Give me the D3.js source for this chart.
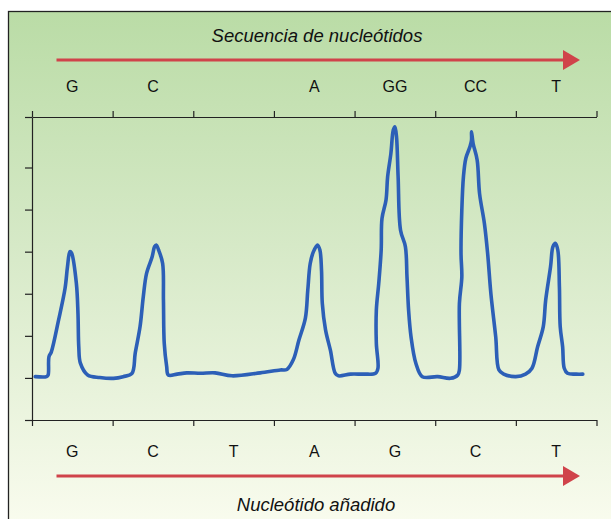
<!DOCTYPE html>
<html lang="es">
<head>
<meta charset="utf-8">
<title>Pirosecuenciación</title>
<script src="https://cdn.jsdelivr.net/npm/d3@7"></script>
<style>
  body { margin: 0; background: #fff; }
  text { font-family: "Liberation Sans", Arial, sans-serif; fill: #111; }
  .title { font-style: italic; font-size: 18.5px; }
  .base { font-size: 16px; }
  .axis path, .axis line { stroke: #222; stroke-width: 1.2; }
</style>
</head>
<body>
<script>
// sequence read (top) and nucleotide dispensed (bottom)
var topLabels = ["G", "C", "A", "GG", "CC", "T"];
var topPos = [0.5, 1.5, 3.5, 4.5, 5.5, 6.5];
var bottomLabels = ["G", "C", "T", "A", "G", "C", "T"];

// signal trace (x: dispensation position, y: light intensity)
var traceX = [0.04, 0.18, 0.20, 0.21, 0.24, 0.33, 0.41, 0.44, 0.47, 0.49, 0.55, 0.57, 0.58, 0.60, 0.69, 0.84,
  1.01, 1.13, 1.24, 1.28, 1.34, 1.38, 1.42, 1.49, 1.52, 1.54, 1.57, 1.62, 1.63, 1.64, 1.67, 1.69, 1.80, 1.92,
  2.09, 2.27, 2.48, 2.83, 3.08, 3.16, 3.24, 3.31, 3.39, 3.42, 3.45, 3.49, 3.54, 3.57, 3.59, 3.60, 3.64, 3.70,
  3.76, 3.80, 3.95, 4.12, 4.26, 4.29, 4.27, 4.27, 4.30, 4.33, 4.34, 4.39, 4.41, 4.45, 4.48, 4.50, 4.52, 4.54,
  4.57, 4.63, 4.65, 4.67, 4.70, 4.76, 4.84, 5.03, 5.19, 5.28, 5.30, 5.30, 5.33, 5.32, 5.33, 5.35, 5.38, 5.43,
  5.45, 5.45, 5.47, 5.52, 5.55, 5.61, 5.65, 5.69, 5.75, 5.79, 5.85, 6.00, 6.12, 6.20, 6.27, 6.34, 6.37, 6.43,
  6.46, 6.49, 6.52, 6.54, 6.55, 6.58, 6.60, 6.64, 6.75, 6.83];
var traceY = [1.03, 1.03, 1.07, 1.50, 1.62, 2.38, 3.13, 3.64, 4.00, 3.97, 3.25, 2.54, 1.74, 1.35, 1.07, 1.01,
  0.99, 1.03, 1.11, 1.59, 2.22, 2.93, 3.48, 3.88, 4.12, 4.16, 4.04, 3.72, 2.85, 1.82, 1.27, 1.07, 1.09, 1.12,
  1.11, 1.12, 1.05, 1.12, 1.19, 1.20, 1.43, 1.90, 2.42, 3.09, 3.72, 4.00, 4.16, 4.04, 3.56, 2.77, 2.14, 1.66,
  1.11, 1.05, 1.09, 1.09, 1.11, 1.23, 1.82, 2.61, 3.25, 4.04, 4.79, 5.23, 5.78, 6.33, 6.89, 6.97, 6.73, 5.78,
  4.51, 4.12, 3.40, 2.61, 1.98, 1.35, 1.03, 1.03, 0.99, 1.07, 1.19, 2.77, 3.40, 3.96, 4.99, 5.78, 6.22, 6.49,
  6.65, 6.85, 6.57, 6.18, 5.38, 4.67, 3.96, 3.01, 1.98, 1.19, 1.09, 1.03, 1.09, 1.23, 1.74, 2.22, 2.85, 3.64,
  4.12, 4.20, 4.04, 3.17, 2.22, 1.74, 1.23, 1.11, 1.09, 1.09];
var yTicks = [1, 2, 3, 4, 5, 6];

var w = 611, h = 519;
var x = d3.scaleLinear().domain([0, 7]).range([32, 596.5]);
var y = d3.scaleLinear().domain([0, 7.2]).range([420, 117]);

var svg = d3.select("body").append("svg")
  .attr("width", w).attr("height", h);

var defs = svg.append("defs");
var grad = defs.append("linearGradient")
  .attr("id", "bg").attr("x1", 0).attr("y1", 0).attr("x2", 0).attr("y2", 1);
grad.append("stop").attr("offset", "0%").attr("stop-color", "#badca6");
grad.append("stop").attr("offset", "45%").attr("stop-color", "#d6e9c7");
grad.append("stop").attr("offset", "100%").attr("stop-color", "#fafcef");

svg.append("rect")
  .attr("x", 8.5).attr("y", 11.5)
  .attr("width", w).attr("height", h)
  .attr("fill", "url(#bg)")
  .attr("stroke", "#222").attr("stroke-width", 1.3);

// axes
svg.append("g").attr("class", "axis")
  .attr("transform", "translate(0," + y(7.2) + ")")
  .call(d3.axisTop(x).tickValues(d3.range(8)).tickFormat("").tickSizeInner(6).tickSizeOuter(0));
svg.append("g").attr("class", "axis")
  .attr("transform", "translate(0," + y(0) + ")")
  .call(d3.axisBottom(x).tickValues(d3.range(8)).tickFormat("").tickSizeInner(6).tickSizeOuter(0));
svg.append("g").attr("class", "axis")
  .attr("transform", "translate(" + x(0) + ",0)")
  .call(d3.axisLeft(y).tickValues([0].concat(yTicks, [7.2])).tickFormat("").tickSizeInner(7).tickSizeOuter(0));
svg.selectAll(".axis text").remove();

// trace
var line = d3.line()
  .x(function(d) { return x(d[0]); })
  .y(function(d) { return y(d[1]); })
  .curve(d3.curveCatmullRom.alpha(0.5));
svg.append("path")
  .datum(d3.zip(traceX, traceY))
  .attr("d", line)
  .attr("fill", "none")
  .attr("stroke", "#2c5fb7")
  .attr("stroke-width", 3.6)
  .attr("stroke-linejoin", "round")
  .attr("stroke-linecap", "round");

// labels
svg.selectAll("text.top").data(topLabels).enter().append("text")
  .attr("class", "base top")
  .attr("x", function(d, i) { return x(topPos[i]); })
  .attr("y", 92)
  .attr("text-anchor", "middle")
  .text(function(d) { return d; });
svg.selectAll("text.bot").data(bottomLabels).enter().append("text")
  .attr("class", "base bot")
  .attr("x", function(d, i) { return x(i + 0.5); })
  .attr("y", 456.5)
  .attr("text-anchor", "middle")
  .text(function(d) { return d; });

// arrows
function arrow(cy) {
  var x0 = 56.5, x1 = 563, tip = 580;
  svg.append("line")
    .attr("x1", x0).attr("x2", x1 + 2).attr("y1", cy).attr("y2", cy)
    .attr("stroke", "#d0434a").attr("stroke-width", 3);
  svg.append("path")
    .attr("d", "M" + x1 + "," + (cy - 10) + "L" + tip + "," + cy + "L" + x1 + "," + (cy + 10) + "Z")
    .attr("fill", "#d0434a");
}
arrow(60);
arrow(476);

svg.append("text").attr("class", "title")
  .attr("x", 317).attr("y", 42).attr("text-anchor", "middle")
  .text("Secuencia de nucleótidos");
svg.append("text").attr("class", "title")
  .attr("x", 316).attr("y", 510.5).attr("text-anchor", "middle")
  .text("Nucleótido añadido");
</script>
</body>
</html>
